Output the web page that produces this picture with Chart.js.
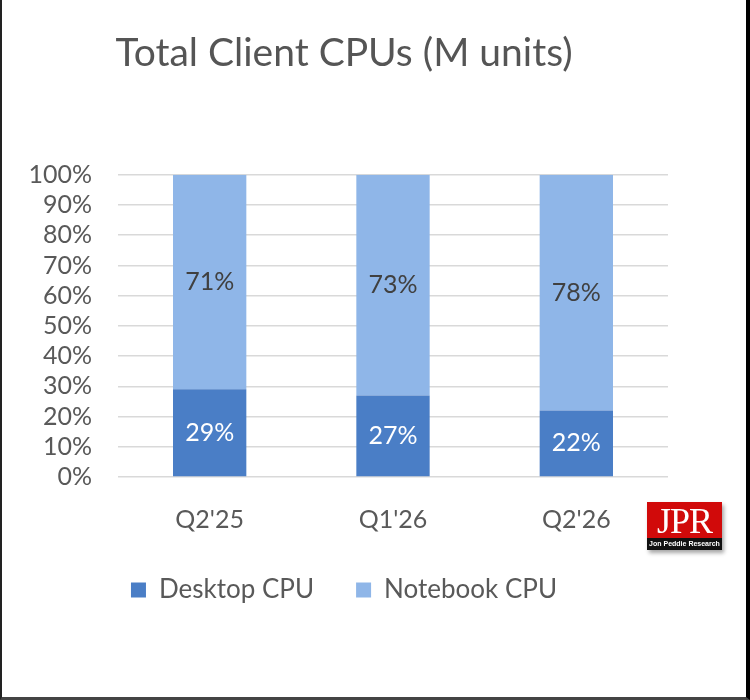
<!DOCTYPE html>
<html>
<head>
<meta charset="utf-8">
<script src="https://cdn.jsdelivr.net/npm/chart.js@4.4.1/dist/chart.umd.min.js"></script>
<style>
  html, body { margin: 0; padding: 0; background: #fff; }
  #wrap { position: relative; width: 750px; height: 700px; }
  #chart { position: absolute; left: 0; top: 0; }
  #frame {
    position: absolute; left: 0; top: 0; width: 750px; height: 700px;
    box-sizing: border-box; border-left: 2px solid #222; border-right: 4px solid #000;
    border-bottom: 3px solid #444; pointer-events: none;
  }
  #logo {
    position: absolute; left: 647px; top: 502px; width: 75px; height: 48px;
    box-shadow: 2px 3px 4px rgba(0,0,0,0.35); font-family: "Liberation Serif", serif;
  }
  #logo .top {
    height: 36px; background: #d10a0a; color: #fff; text-align: center;
    font-size: 36px; line-height: 38px; letter-spacing: -1px;
  }
  #logo .bot {
    height: 12px; background: #111; color: #fff; text-align: center;
    font-size: 7px; line-height: 12px; font-family: "Liberation Sans Narrow", "Liberation Sans", sans-serif; font-weight: bold;
  }
</style>
</head>
<body>
<div id="wrap">
  <canvas id="chart" width="750" height="700"></canvas>
  <div id="logo"><div class="top">JPR</div><div class="bot">Jon Peddie Research</div></div>
  <div id="frame"></div>
</div>
<script>
const quarters = ["Q2'25", "Q1'26", "Q2'26"];
const desktopShare = [29, 27, 22];
const notebookShare = [71, 73, 78];
const seriesNames = ['Desktop CPU', 'Notebook CPU'];
const yTicks = [0, 10, 20, 30, 40, 50, 60, 70, 80, 90, 100];

const labelColors = ['#ffffff', '#404040'];

Chart.defaults.font.family = 'Lato';
Chart.defaults.color = '#595959';

// values in the middle of each stacked segment
const barLabels = {
  id: 'barLabels',
  afterDatasetsDraw(chart) {
    const ctx = chart.ctx;
    chart.data.datasets.forEach((ds, i) => {
      const meta = chart.getDatasetMeta(i);
      meta.data.forEach((bar, j) => {
        ctx.save();
        ctx.fillStyle = labelColors[i];
        ctx.font = '25px Lato';
        ctx.textAlign = 'center';
        ctx.textBaseline = 'middle';
        ctx.fillText(ds.data[j] + '%', bar.x, (bar.y + bar.base) / 2);
        ctx.restore();
      });
    });
  }
};

new Chart(document.getElementById('chart'), {
  type: 'bar',
  data: {
    labels: quarters,
    datasets: [
      {
        label: seriesNames[0],
        data: desktopShare,
        backgroundColor: '#4a7ec6',
        barPercentage: 0.4,
        categoryPercentage: 1
      },
      {
        label: seriesNames[1],
        data: notebookShare,
        backgroundColor: '#8fb6e8',
        barPercentage: 0.4,
        categoryPercentage: 1
      }
    ]
  },
  options: {
    responsive: false,
    animation: false,
    devicePixelRatio: 1,
    layout: { padding: { left: 20, right: 82, top: 0, bottom: 87 } },
    plugins: {
      title: {
        display: true,
        text: 'Total Client CPUs (M units)',
        font: { size: 39, weight: 'normal' },
        color: '#555555',
        padding: { top: 30, bottom: 98 }
      },
      legend: {
        position: 'bottom',
        labels: {
          boxWidth: 15,
          boxHeight: 15,
          padding: 42,
          font: { size: 26 },
          color: '#595959'
        }
      },
      tooltip: { enabled: false }
    },
    scales: {
      x: {
        stacked: true,
        grid: { display: false, drawTicks: false },
        border: { display: false },
        ticks: { padding: 28, font: { size: 25 }, color: '#595959' },
        afterFit(scale) { scale.height = 58; }
      },
      y: {
        stacked: true,
        min: 0,
        max: 100,
        afterBuildTicks(scale) { scale.ticks = yTicks.map(v => ({ value: v })); },
        ticks: {
          autoSkip: false,
          padding: 26,
          font: { size: 25, lineHeight: 1 },
          color: '#595959',
          callback: v => v + '%'
        },
        grid: { color: '#d9d9d9', lineWidth: 1.5, drawTicks: false },
        border: { display: false },
        afterFit(scale) { scale.width = 98; }
      }
    }
  },
  plugins: [barLabels]
});
</script>
</body>
</html>
